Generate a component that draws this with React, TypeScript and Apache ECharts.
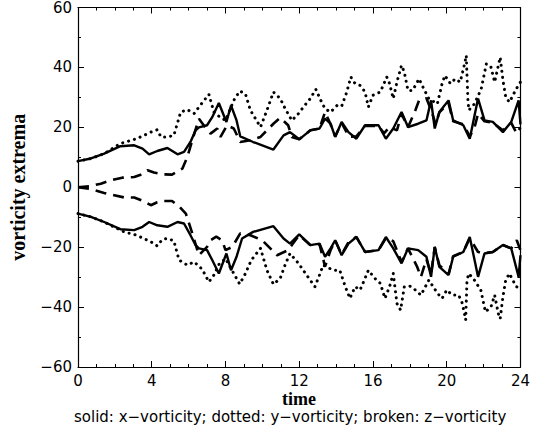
import React, { useEffect, useRef } from "react";
import * as echarts from "echarts";

// time ticks and value ticks
const xTicks = [0, 4, 8, 12, 16, 20, 24];
const yTicks = [-60, -40, -20, 0, 20, 40, 60];

// [time, value]
const solidUpper: [number, number][] = [
  [0, 8.7], [0.7, 9.6], [1.42, 11.2], [2.3, 13.7], [3.05, 14], [3.5, 12.9], [3.86, 11], [4.3, 12.1],
  [4.85, 13.1], [5.4, 11], [5.75, 11.8], [6.1, 15.1], [6.38, 19], [6.56, 20], [7.0, 20.7], [7.28, 23.4],
  [7.64, 28.1], [8.05, 21.8], [8.3, 27.3], [8.6, 22.3], [8.8, 17], [9.5, 15.1], [10.6, 12.6], [11.15, 17.3],
  [11.5, 18.4], [12.0, 16], [12.6, 19], [13.1, 19.6], [13.4, 22.9], [13.7, 21.2], [13.95, 16.8], [14.3, 21.8],
  [14.67, 18.4], [15.1, 16.2], [15.57, 20.7], [16.3, 20.7], [16.7, 16.2], [17.1, 19.6], [17.55, 25.1],
  [17.9, 20.1], [18.45, 21.2], [18.9, 22.3], [19.15, 29], [19.35, 19.6], [19.6, 25.1], [20.1, 29],
  [20.35, 22.3], [20.9, 20.7], [21.25, 16.2], [21.7, 29.6], [22.05, 22.3], [22.5, 21.8], [23.05, 18.4],
  [23.5, 21.8], [23.9, 29], [24, 21],
];
const solidLower: [number, number][] = [
  [0, -8.8], [0.7, -9.9], [1.42, -11.6], [2.3, -14], [3.05, -14.3], [3.5, -13.2], [3.86, -11.6], [4.3, -12.7],
  [4.85, -13.2], [5.4, -11.6], [5.75, -12.1], [6.1, -16], [6.38, -19.3], [6.56, -20.4], [7.0, -21], [7.28, -24.3],
  [7.64, -28.8], [8.05, -22.1], [8.3, -27.7], [8.6, -23.2], [8.9, -17.1], [9.5, -14.9], [10.6, -13], [11.15, -17.1],
  [11.5, -18.8], [12.0, -15.7], [12.6, -19.3], [13.1, -18.8], [13.4, -23.2], [13.7, -20.4], [13.95, -17.7],
  [14.3, -22.7], [14.67, -18.8], [15.1, -16.6], [15.57, -21.6], [16.3, -21], [16.7, -16.6], [17.1, -20.4],
  [17.55, -25.4], [17.9, -20.4], [18.45, -21], [18.9, -23.2], [19.15, -29.9], [19.35, -19.9], [19.6, -26.6],
  [20.1, -29.3], [20.35, -23.2], [20.9, -21.6], [21.25, -16.6], [21.7, -29.9], [22.05, -22.1], [22.5, -21.6],
  [23.05, -19.3], [23.5, -20.4], [23.9, -29.9], [24, -22.7],
];
const dottedUpper: [number, number][] = [
  [0, 8.7], [0.7, 9.6], [1.42, 11.2], [2.3, 14.6], [3.18, 16.2], [3.95, 18.4], [4.3, 19.2], [4.5, 16.8],
  [4.85, 16.8], [5.2, 17.3], [5.57, 25.1], [5.93, 25.9], [6.3, 24.6], [6.56, 26.8], [7.1, 31], [7.37, 25.1],
  [7.64, 23.7], [8.0, 22.3], [8.45, 29], [8.77, 32.1], [9.08, 31.2], [9.35, 25.7], [9.9, 20.1], [10.25, 25.7],
  [10.6, 31.8], [10.97, 29.6], [11.24, 26.2], [11.6, 22.3], [11.96, 24.6], [12.23, 26.8], [12.6, 29.6],
  [12.9, 32.7], [13.17, 29], [13.4, 26.2], [13.7, 25.1], [14.05, 27.3], [14.3, 27], [14.58, 31.8], [14.8, 36.8],
  [15.03, 34.6], [15.3, 34], [15.57, 31.8], [15.75, 26.8], [16.0, 30.7], [16.4, 31.8], [16.75, 36.8],
  [16.9, 34.6], [17.1, 29.6], [17.3, 35.1], [17.55, 40.7], [17.7, 38.4], [17.9, 32.3], [18.15, 32.3],
  [18.5, 36.2], [18.76, 32.8], [19.03, 29.6], [19.49, 27.8], [19.75, 34.6], [19.9, 37.3], [20.2, 34.6],
  [20.46, 36.2], [20.73, 35.1], [20.97, 41.2], [21.06, 44], [21.15, 29], [21.2, 25.7], [21.5, 27.8],
  [21.87, 32.8], [22.15, 41.2], [22.4, 40.1], [22.6, 35.1], [22.9, 43.4], [23.05, 35.7], [23.2, 30.1],
  [23.4, 28.4], [23.77, 32.8], [24, 35.1],
];
const dottedLower: [number, number][] = [
  [0, -8.8], [0.7, -9.9], [1.42, -11.6], [2.5, -14.9], [3.18, -16], [3.95, -18.2], [4.3, -19.6], [4.58, -17.4],
  [4.85, -17.1], [5.2, -17.9], [5.48, -24.3], [5.93, -26], [6.3, -24.9], [6.74, -27.4], [7.1, -31.6],
  [7.37, -29.3], [7.64, -25.8], [8.0, -23.8], [8.45, -28.8], [8.77, -32.3], [9.08, -28.8], [9.4, -24.3],
  [9.9, -20.4], [10.25, -27.7], [10.6, -32.4], [10.97, -30.4], [11.24, -25.8], [11.5, -22.1], [11.96, -25.4],
  [12.4, -29.3], [12.85, -33.2], [13.1, -29.3], [13.3, -26], [13.85, -27.7], [14.2, -27.7], [14.5, -33.2],
  [14.75, -37.1], [15.03, -33.2], [15.3, -34.3], [15.57, -30.4], [15.75, -27.7], [16.1, -30.4], [16.4, -32.1],
  [16.65, -37.1], [16.9, -33.2], [17.1, -28.8], [17.3, -38.8], [17.5, -41], [17.7, -33.2], [18.0, -33],
  [18.3, -34.3], [18.6, -36], [18.8, -33.7], [19.03, -31], [19.5, -35.4], [19.75, -37.1], [20.0, -34.3],
  [20.3, -36], [20.65, -36], [20.85, -38.8], [21.03, -44.3], [21.1, -31], [21.2, -28.8], [21.5, -31],
  [21.85, -34.3], [22.1, -41.6], [22.4, -40], [22.6, -36], [22.8, -42.2], [22.9, -43.9], [23.05, -36.6],
  [23.2, -31], [23.4, -28.8], [23.77, -33.2], [24, -33.7],
];
const brokenUpper: [number, number][] = [
  [0, 0], [0.6, 0.3], [1.24, 1.2], [1.78, 2.3], [2.4, 3.2], [3.05, 3.4], [3.4, 4.2], [3.77, 5.7], [4.12, 4.9],
  [4.66, 4.3], [5.1, 4.2], [5.66, 6.2], [5.93, 10.1], [6.2, 15.7], [6.56, 22.9], [6.9, 20], [7.19, 17.9],
  [7.55, 19.6], [7.73, 16.8], [8.09, 20.7], [8.45, 19.6], [8.8, 15.1], [9.35, 15.7], [9.9, 16.8], [10.6, 21.2],
  [10.97, 23.2], [11.4, 20.7], [11.6, 16.8], [12.0, 16], [12.6, 19], [13.1, 19.6], [13.4, 25.1], [13.7, 21],
  [13.95, 17], [14.3, 21.5], [14.7, 16.8], [15.1, 17], [15.57, 20.5], [16.3, 20.5], [16.6, 18], [16.9, 20.1],
  [17.3, 19], [17.55, 24.5], [17.9, 20], [18.3, 25.7], [18.5, 29], [18.9, 29.7], [19.2, 25], [19.4, 21],
  [19.6, 25], [20.1, 28], [20.35, 22], [20.9, 21], [21.25, 17], [21.5, 19.7], [21.7, 24.6], [22.05, 22],
  [22.5, 21.5], [23.05, 19], [23.5, 21.5], [23.8, 17.9], [24, 20],
];
const brokenLower: [number, number][] = [
  [0, 0], [0.6, -0.5], [1.42, -1.9], [2.5, -3.4], [3.05, -3.4], [3.5, -4.5], [3.95, -6], [4.3, -5],
  [4.66, -4.6], [5.1, -4.6], [5.5, -6.5], [5.85, -8.8], [6.2, -15.4], [6.56, -22.7], [7.0, -19.9],
  [7.19, -17.7], [7.5, -16.5], [7.82, -17.7], [8.0, -21], [8.37, -19.9], [8.8, -15.4], [9.35, -16],
  [9.99, -17.7], [10.8, -22.7], [11.4, -21], [11.6, -19.3], [12.0, -16], [12.6, -19.3], [13.1, -19],
  [13.4, -26.5], [13.7, -21], [13.95, -17.7], [14.3, -22.5], [14.7, -18], [15.1, -16.6], [15.57, -21.6],
  [16.3, -21], [16.7, -17], [17.1, -18], [17.55, -25], [17.9, -20.4], [18.4, -26.6], [18.6, -30], [18.9, -24],
  [19.15, -29], [19.35, -20], [19.6, -26], [20.1, -29], [20.35, -23], [20.9, -21.6], [21.25, -17],
  [21.7, -21.6], [22.05, -22], [22.5, -21.6], [23.05, -19.3], [23.5, -20.4], [23.8, -17.7], [24, -21],
];

const xTitle = "time";
const yTitle = "vorticity extrema";
const caption = "solid: x\u2212vorticity; dotted: y\u2212vorticity; broken: z\u2212vorticity";

export default function App() {
  const ref = useRef<HTMLDivElement>(null);
  useEffect(() => {
    if (!ref.current) return;
    const chart = echarts.init(ref.current, null, { renderer: "svg" });
    const sans = "DejaVu Sans";
    const serif = "Liberation Serif";
    const xBase = {
      type: "value" as const,
      min: xTicks[0],
      max: xTicks[xTicks.length - 1],
      interval: xTicks[1] - xTicks[0],
      splitLine: { show: false },
      axisLine: { show: true, onZero: false, lineStyle: { color: "#000", width: 1.2 } },
      axisTick: { show: true, inside: true, length: 6, lineStyle: { color: "#000" } },
      minorTick: { show: true, splitNumber: 4, length: 3, lineStyle: { color: "#000" } },
    };
    const yBase = {
      type: "value" as const,
      min: yTicks[0],
      max: yTicks[yTicks.length - 1],
      interval: yTicks[1] - yTicks[0],
      splitLine: { show: false },
      axisLine: { show: true, onZero: false, lineStyle: { color: "#000", width: 1.2 } },
      axisTick: { show: true, inside: true, length: 6, lineStyle: { color: "#000" } },
      minorTick: { show: true, splitNumber: 2, length: 3, lineStyle: { color: "#000" } },
    };
    const solid = { type: "solid" as const, width: 2.4, color: "#000" };
    const dotted = { type: [0.1, 6], width: 3, color: "#000", cap: "round" as const };
    const broken = { type: [11, 7], width: 2.6, color: "#000" };
    const mk = (data: [number, number][], ls: any) => ({
      type: "line",
      data,
      showSymbol: false,
      symbol: "none",
      lineStyle: ls,
      silent: true,
      clip: true,
    });
    chart.setOption({
      animation: false,
      graphic: [
        {
          type: "text",
          x: 299,
          y: 399,
          style: {
            text: xTitle,
            font: `bold 18px "${serif}"`,
            fill: "#000",
            textAlign: "center",
            textVerticalAlign: "middle",
          },
        },
        {
          type: "text",
          x: 74,
          y: 416.5,
          style: {
            text: caption,
            font: `15px "${sans}"`,
            fill: "#000",
            textAlign: "left",
            textVerticalAlign: "middle",
          },
        },
      ],
      grid: { left: 77, top: 7, right: 12, bottom: 67, containLabel: false },
      xAxis: [
        {
          ...xBase,
          position: "bottom",
          axisLabel: { show: true, margin: 6, fontFamily: sans, fontSize: 15, color: "#000" },
        },
        { ...xBase, position: "top", axisLabel: { show: false } },
      ],
      yAxis: [
        {
          ...yBase,
          position: "left",
          name: yTitle,
          nameLocation: "middle",
          nameGap: 50,
          nameTextStyle: { fontFamily: serif, fontWeight: "bold", fontSize: 20, color: "#000" },
          axisLabel: {
            show: true,
            margin: 6,
            fontFamily: sans,
            fontSize: 15,
            color: "#000",
            formatter: (v: number) => (v < 0 ? "\u2212" + Math.abs(v) : String(v)),
          },
        },
        { ...yBase, position: "right", axisLabel: { show: false } },
      ],
      series: [
        mk(dottedUpper, dotted),
        mk(dottedLower, dotted),
        mk(brokenUpper, broken),
        mk(brokenLower, broken),
        mk(solidUpper, solid),
        mk(solidLower, solid),
      ],
    });
    return () => chart.dispose();
  }, []);
  return <div ref={ref} style={{ width: 533, height: 434, position: "absolute", left: 0, top: 0 }} />;
}
